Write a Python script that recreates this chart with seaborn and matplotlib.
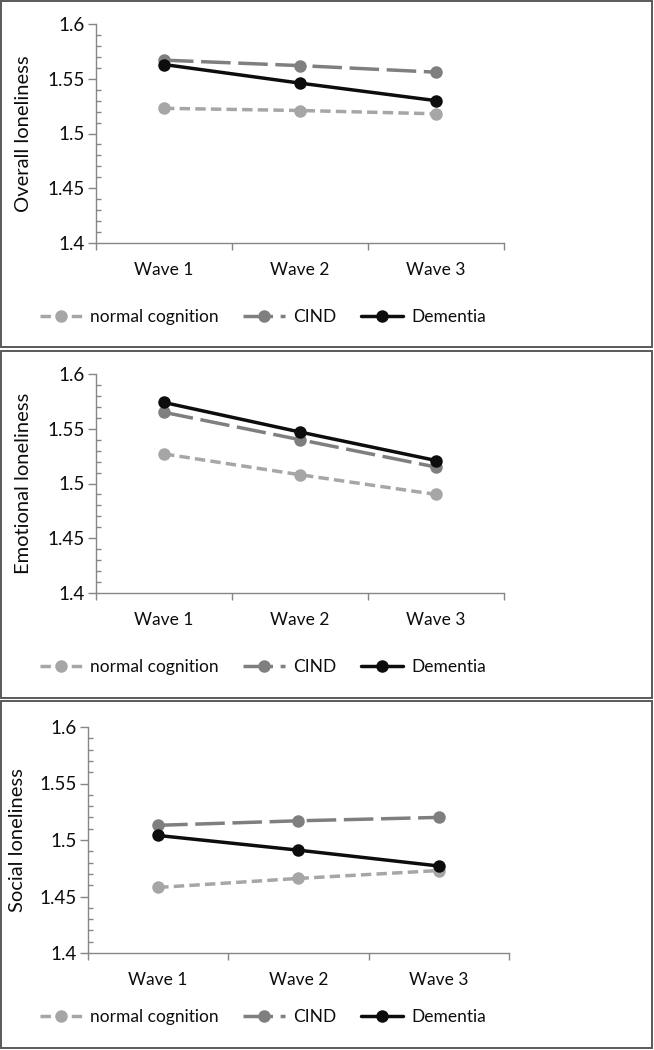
import matplotlib
matplotlib.use("Agg")
import matplotlib.pyplot as plt
from matplotlib.patches import Rectangle
from matplotlib.ticker import MultipleLocator
import seaborn as sns
import pandas as pd

waves = ["Wave 1", "Wave 2", "Wave 3"]
groups = ["normal cognition", "CIND", "Dementia"]

overall_normal = [1.523, 1.521, 1.518]
overall_cind = [1.567, 1.562, 1.556]
overall_dementia = [1.563, 1.546, 1.530]

emotional_normal = [1.527, 1.508, 1.490]
emotional_cind = [1.565, 1.540, 1.515]
emotional_dementia = [1.574, 1.547, 1.521]

social_normal = [1.458, 1.466, 1.473]
social_cind = [1.513, 1.517, 1.520]
social_dementia = [1.504, 1.491, 1.477]

panel_titles = ["Overall loneliness", "Emotional loneliness", "Social loneliness"]
panel_values = [
    [overall_normal, overall_cind, overall_dementia],
    [emotional_normal, emotional_cind, emotional_dementia],
    [social_normal, social_cind, social_dementia],
]

palette = {"normal cognition": "#a6a6a6", "CIND": "#7f7f7f", "Dementia": "#0d0d0d"}
dashes = {"normal cognition": (3.0, 1.5), "CIND": (8.5, 2.2), "Dementia": ""}

sns.set_style("white")
plt.rcParams['font.family'] = ['Lato', 'DejaVu Sans']

W, H = 654, 1050
fig = plt.figure(figsize=(W / 100, H / 100), dpi=100)

# panel frames (top, bottom) in pixels, axes boxes (left, top, right, bottom), ylabel x
frames = [(1, 347), (351, 698), (701, 1048)]
boxes = [(96, 24, 504, 243), (96, 374, 504, 593), (88, 727, 509, 953)]
ylabel_x = [32, 32, 26]
txt = "#0d0d0d"

for i in range(3):
    ft, fb = frames[i]
    fig.patches.append(Rectangle((1 / W, 1 - fb / H), (W - 3) / W, (fb - ft) / H,
                                 transform=fig.transFigure, fill=False,
                                 edgecolor="#595959", linewidth=1.4))
    l, t, r, b = boxes[i]
    ax = fig.add_axes([l / W, 1 - b / H, (r - l) / W, (b - t) / H])

    rows = []
    for g, vals in zip(groups, panel_values[i]):
        for w, v in zip(waves, vals):
            rows.append({"wave": w, "group": g, "value": v})
    df = pd.DataFrame(rows)

    sns.lineplot(data=df, x="wave", y="value", hue="group", style="group",
                 hue_order=groups, style_order=groups, palette=palette,
                 dashes=dashes, markers={g: "o" for g in groups},
                 markersize=9, linewidth=2.5, markeredgewidth=0, ax=ax,
                 legend=True)

    ax.set_xlim(-0.5, 2.5)
    ax.set_ylim(1.4, 1.6)
    ax.yaxis.set_minor_locator(MultipleLocator(0.01))
    ax.set_yticks([1.4, 1.45, 1.5, 1.55, 1.6])
    ax.set_yticklabels(["1.4", "1.45", "1.5", "1.55", "1.6"])
    ax.set_xticks([0, 1, 2])
    ax.set_xticklabels(waves)
    ax.set_xticks([-0.5, 0.5, 1.5, 2.5], minor=True)
    ax.tick_params(axis="x", which="major", length=0, pad=14, labelsize=12.5, labelcolor=txt)
    ax.tick_params(axis="x", which="minor", length=5, width=1, color="#868686",
                   direction="out", bottom=True)
    ax.tick_params(axis="y", which="major", length=6, width=1, color="#868686",
                   direction="out", labelsize=13.5, labelcolor=txt, pad=2, left=True)
    ax.tick_params(axis="y", which="minor", length=3.5, width=1, color="#868686",
                   direction="in", left=True)
    sns.despine(ax=ax)
    for s in ["left", "bottom"]:
        ax.spines[s].set_color("#868686")
        ax.spines[s].set_linewidth(1)
    ax.set_xlabel("")
    ax.set_ylabel(panel_titles[i], fontsize=14.5, color=txt)
    ax.yaxis.set_label_coords((ylabel_x[i] - l) / (r - l), 0.5)

    handles, labels = ax.get_legend_handles_labels()
    ax.get_legend().remove()
    fig.legend(handles, labels, loc="center", ncol=3, frameon=False,
               bbox_to_anchor=(263 / W, 1 - (ft + 316) / H), fontsize=12.5,
               handlelength=2.4, handletextpad=0.5, columnspacing=1.4,
               labelcolor=txt)

fig.savefig("out.png", dpi=100)
